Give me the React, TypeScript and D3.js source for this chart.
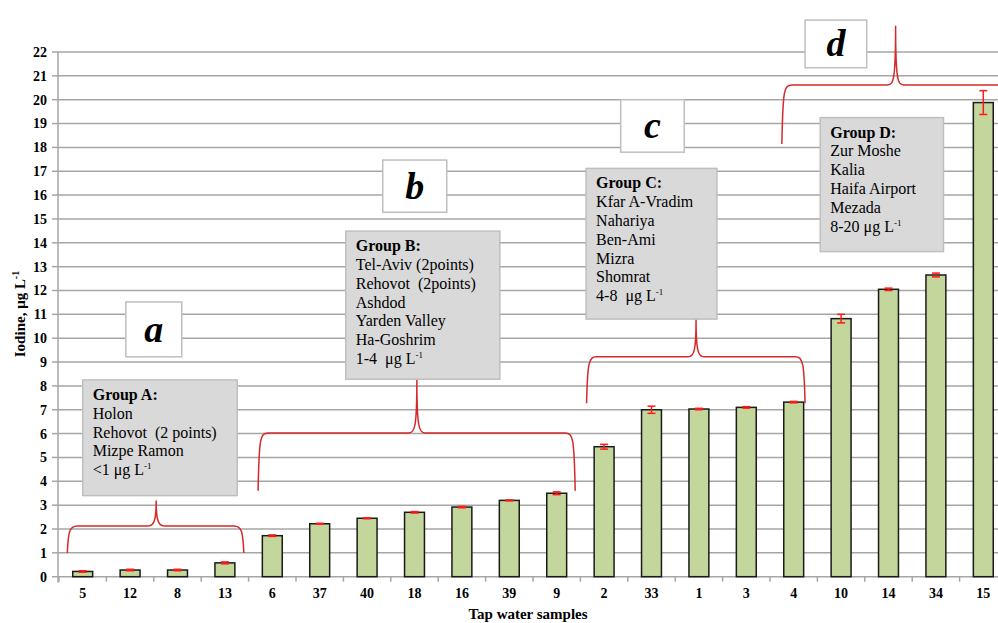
import React from 'react';
import * as d3 from 'd3';

// tap water samples, in the order shown on the x axis
const categories = ['5', '12', '8', '13', '6', '37', '40', '18', '16', '39', '9', '2', '33', '1', '3', '4', '10', '14', '34', '15'];
const iodine = [0.22, 0.28, 0.28, 0.58, 1.72, 2.22, 2.45, 2.7, 2.92, 3.2, 3.5, 5.45, 7.0, 7.03, 7.1, 7.32, 10.82, 12.05, 12.65, 19.88];
const iodineErr = [0.03, 0.03, 0.03, 0.04, 0.03, 0.02, 0.02, 0.03, 0.03, 0.02, 0.06, 0.1, 0.15, 0.03, 0.03, 0.03, 0.18, 0.05, 0.08, 0.5];
const yTicks = d3.range(0, 23);

// group annotations
const groupTitles = ['Group A:', 'Group B:', 'Group C:', 'Group D:'];
const groupSites = [
  ['Holon', 'Rehovot  (2 points)', 'Mizpe Ramon'],
  ['Tel-Aviv (2points)', 'Rehovot  (2points)', 'Ashdod', 'Yarden Valley', 'Ha-Goshrim'],
  ['Kfar A-Vradim', 'Nahariya', 'Ben-Ami', 'Mizra', 'Shomrat'],
  ['Zur Moshe', 'Kalia', 'Haifa Airport', 'Mezada'],
];
const groupRanges = ['<1 μg L', '1-4  μg L', '4-8  μg L', '8-20 μg L'];
const groupLetters = ['a', 'b', 'c', 'd'];
// box extents in [index0, index1, valueTop, valueBottom]
const groupBoxes = [
  [0.5, 3.76, 8.25, 3.4],
  [6.05, 9.3, 14.49, 8.28],
  [11.12, 13.88, 17.12, 10.8],
  [16.06, 18.66, 19.25, 13.63],
];
const letterBoxes = [
  [1.41, 2.59, 11.52, 9.22],
  [6.83, 8.18, 17.47, 15.28],
  [11.85, 13.19, 20.0, 17.8],
  [15.74, 17.04, 23.34, 21.34],
];
// braces: [left, centre, right] in index units, [end, line, peak] in values
const braceX = [
  [0.175, 2.05, 3.9],
  [4.2, 7.55, 10.89],
  [11.13, 13.44, 15.74],
  [15.25, 17.65, 20.5],
];
const braceY = [
  [1.0, 2.13, 3.2],
  [3.6, 6.03, 8.3],
  [7.27, 9.22, 10.8],
  [18.14, 20.62, 23.1],
];

const W = 998;
const H = 623;
const left = 59;
const step = 47.4;
const serif = "'Liberation Serif', 'Times New Roman', 'DejaVu Serif', serif";

export default function App() {
  const x = d3
    .scaleBand()
    .domain(categories)
    .range([left, left + step * categories.length])
    .paddingInner(0.58)
    .paddingOuter(0.29);
  const xi = d3.scaleLinear().domain([0, categories.length]).range([left, left + step * categories.length]);
  const y = d3.scaleLinear().domain([0, 22]).range([576.7, 52.0]);

  const bracePath = (i) => {
    const [l, c, r] = braceX[i].map(xi);
    const [yb, yh, yp] = braceY[i].map(y);
    let p = `M${l},${yb} C${l + 1},${yh + 6} ${l + 2},${yh} ${l + 10},${yh}`;
    p += ` L${c - 8},${yh} C${c - 2},${yh} ${c},${yh - 6} ${c},${yp}`;
    p += ` C${c},${yh - 6} ${c + 2},${yh} ${c + 8},${yh}`;
    if (r > W) p += ` L${W + 10},${yh}`;
    else p += ` L${r - 10},${yh} C${r - 2},${yh} ${r - 1},${yh + 6} ${r},${yb}`;
    return p;
  };

  return (
    <svg width={W} height={H} style={{ position: 'absolute', left: 0, top: 0, background: '#fff', fontFamily: serif }}>
      {/* gridlines */}
      {yTicks.map((t) => (
        <line key={'g' + t} x1={left - 1} x2={W} y1={y(t)} y2={y(t)} stroke="#a6a6a6" strokeWidth={1.5} />
      ))}
      {/* y axis */}
      <line x1={left - 1} x2={left - 1} y1={y(22)} y2={y(0) + 6} stroke="#a6a6a6" strokeWidth={1.5} />
      {yTicks.map((t) => (
        <g key={'yt' + t}>
          <line x1={left - 7} x2={left - 1} y1={y(t)} y2={y(t)} stroke="#a6a6a6" strokeWidth={1.5} />
          <text x={left - 12} y={y(t)} dy="0.35em" textAnchor="end" fontSize={14} fontWeight="bold">
            {t}
          </text>
        </g>
      ))}
      {/* x axis ticks */}
      {d3.range(0, categories.length + 1).map((i) => (
        <line key={'xt' + i} x1={xi(i)} x2={xi(i)} y1={y(0)} y2={y(0) + 5} stroke="#a6a6a6" strokeWidth={1.5} />
      ))}
      {categories.map((c) => (
        <text key={'xl' + c} x={x(c) + x.bandwidth() / 2} y={598} textAnchor="middle" fontSize={14} fontWeight="bold">
          {c}
        </text>
      ))}
      <text x={528} y={619} textAnchor="middle" fontSize={15} fontWeight="bold">
        Tap water samples
      </text>
      <text transform="translate(25,314) rotate(-90)" textAnchor="middle" fontSize={15} fontWeight="bold">
        Iodine, μg L<tspan dy={-6} fontSize={10}>-1</tspan>
      </text>

      {/* bars */}
      {categories.map((c, i) => (
        <rect
          key={'b' + c}
          x={x(c)}
          y={y(iodine[i])}
          width={x.bandwidth()}
          height={y(0) - y(iodine[i])}
          fill="#c3d69b"
          stroke="#1a1a1a"
          strokeWidth={1.5}
        />
      ))}
      {/* error bars */}
      {categories.map((c, i) => {
        const cx = x(c) + x.bandwidth() / 2;
        const y1 = y(iodine[i] + iodineErr[i]);
        const y2 = y(iodine[i] - iodineErr[i]);
        return (
          <g key={'e' + c} stroke="#ff1a1a" strokeWidth={1.5}>
            <line x1={cx} x2={cx} y1={y1} y2={y2} />
            <line x1={cx - 4} x2={cx + 4} y1={y1} y2={y1} />
            <line x1={cx - 4} x2={cx + 4} y1={y2} y2={y2} />
          </g>
        );
      })}

      {/* braces */}
      {braceX.map((_, i) => (
        <path key={'br' + i} d={bracePath(i)} fill="none" stroke="#d42a2a" strokeWidth={1.5} />
      ))}

      {/* group boxes */}
      {groupBoxes.map(([i0, i1, v0, v1], g) => {
        const bx = xi(i0);
        const by = y(v0);
        const lines = groupSites[g];
        return (
          <g key={'gb' + g}>
            <rect x={bx} y={by} width={xi(i1) - bx} height={y(v1) - by} fill="#d9d9d9" stroke="#bfbfbf" strokeWidth={1.5} />
            <text x={bx + 10} y={by + 20} fontSize={16} fontWeight="bold">
              {groupTitles[g]}
            </text>
            {lines.map((s, k) => (
              <text key={k} x={bx + 10} y={by + 20 + (k + 1) * 18.8} fontSize={16} style={{ whiteSpace: 'pre' }}>
                {s}
              </text>
            ))}
            <text x={bx + 10} y={by + 20 + (lines.length + 1) * 18.8} fontSize={16} style={{ whiteSpace: 'pre' }}>
              {groupRanges[g]}
              <tspan dy={-6} fontSize={9}>
                -1
              </tspan>
            </text>
          </g>
        );
      })}

      {/* letter boxes */}
      {letterBoxes.map(([i0, i1, v0, v1], g) => {
        const bx = xi(i0);
        const by = y(v0);
        const w = xi(i1) - bx;
        const h = y(v1) - by;
        return (
          <g key={'lb' + g}>
            <rect x={bx} y={by} width={w} height={h} fill="#fff" stroke="#bfbfbf" strokeWidth={1.5} />
            <text x={bx + w / 2} y={by + h / 2} dy="0.33em" textAnchor="middle" fontSize={38} fontWeight="bold" fontStyle="italic">
              {groupLetters[g]}
            </text>
          </g>
        );
      })}
    </svg>
  );
}
